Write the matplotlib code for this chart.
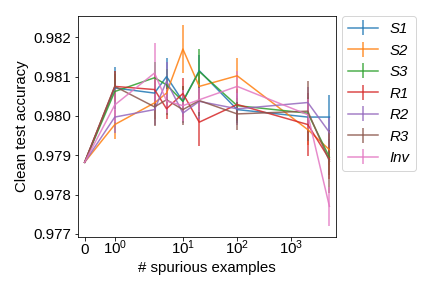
import matplotlib
matplotlib.use("Agg")
import matplotlib.pyplot as plt
from matplotlib.ticker import FormatStrFormatter, NullLocator

plt.rcParams['font.family'] = ['Liberation Sans', 'DejaVu Sans']
plt.rcParams['font.size'] = 15

n_spurious = [0, 1, 3, 5, 10, 20, 100, 2000, 5000]
labels = ['S1', 'S2', 'S3', 'R1', 'R2', 'R3', 'Inv']

s1 = [0.97882, 0.98071, 0.98058, 0.98100, 0.98037, 0.98115, 0.98016, 0.97997, 0.97997]
s2 = [0.97882, 0.97978, 0.98033, 0.98058, 0.98170, 0.98075, 0.98102, 0.97965, 0.97914]
s3 = [0.97882, 0.98062, 0.98097, 0.98079, 0.98037, 0.98113, 0.98026, 0.98007, 0.97895]
r1 = [0.97882, 0.98075, 0.98067, 0.98018, 0.98057, 0.97984, 0.98029, 0.97978, 0.97890]
r2 = [0.97882, 0.97997, 0.98016, 0.98088, 0.98007, 0.98037, 0.98018, 0.98034, 0.97958]
r3 = [0.97882, 0.98075, 0.98023, 0.98041, 0.98016, 0.98039, 0.98005, 0.98012, 0.97885]
inv = [0.97882, 0.98028, 0.98109, 0.98038, 0.98026, 0.98041, 0.98075, 0.98003, 0.97770]

s1_err = [0, 0.00054, 0.00040, 0.00047, 0.00040, 0.00040, 0.00035, 0.00040, 0.00057]
s2_err = [0, 0.00037, 0.00040, 0.00040, 0.00060, 0.00040, 0.00044, 0.00040, 0.00040]
s3_err = [0, 0.00045, 0.00040, 0.00040, 0.00040, 0.00056, 0.00040, 0.00040, 0.00045]
r1_err = [0, 0.00040, 0.00040, 0.00027, 0.00040, 0.00060, 0.00040, 0.00079, 0.00050]
r2_err = [0, 0.00040, 0.00040, 0.00050, 0.00025, 0.00045, 0.00040, 0.00040, 0.00040]
r3_err = [0, 0.00040, 0.00048, 0.00040, 0.00040, 0.00040, 0.00040, 0.00076, 0.00080]
inv_err = [0, 0.00043, 0.00077, 0.00030, 0.00040, 0.00030, 0.00040, 0.00040, 0.00050]

means = [s1, s2, s3, r1, r2, r3, inv]
errs = [s1_err, s2_err, s3_err, r1_err, r2_err, r3_err, inv_err]

fig = plt.figure(figsize=(6, 4), dpi=72)
ax = fig.add_axes([0.1806, 0.1771, 0.5972, 0.7673])

for m, e, lab in zip(means, errs, labels):
    ax.errorbar(n_spurious, m, yerr=e, label=lab, alpha=0.85)

ax.set_xscale('symlog')
ax.set_xticks([0, 1, 10, 100, 1000])
ax.xaxis.set_minor_locator(NullLocator())
ax.margins(x=0.027)
ax.set_ylim(0.97692, 0.98254)
ax.yaxis.set_major_formatter(FormatStrFormatter('%.3f'))
ax.set_xlabel('# spurious examples')
ax.set_ylabel('Clean test accuracy')

# line the x tick labels up on their baseline, like "0" next to "10^0"
ax.tick_params(axis='x', pad=14)
for t in ax.xaxis.get_major_ticks():
    t.label1.set_verticalalignment('baseline')

leg = ax.legend(loc='upper left', bbox_to_anchor=(1.022, 1.0), borderaxespad=0,
                prop={'style': 'italic', 'size': 15})

fig.savefig('out.png', dpi=72)
